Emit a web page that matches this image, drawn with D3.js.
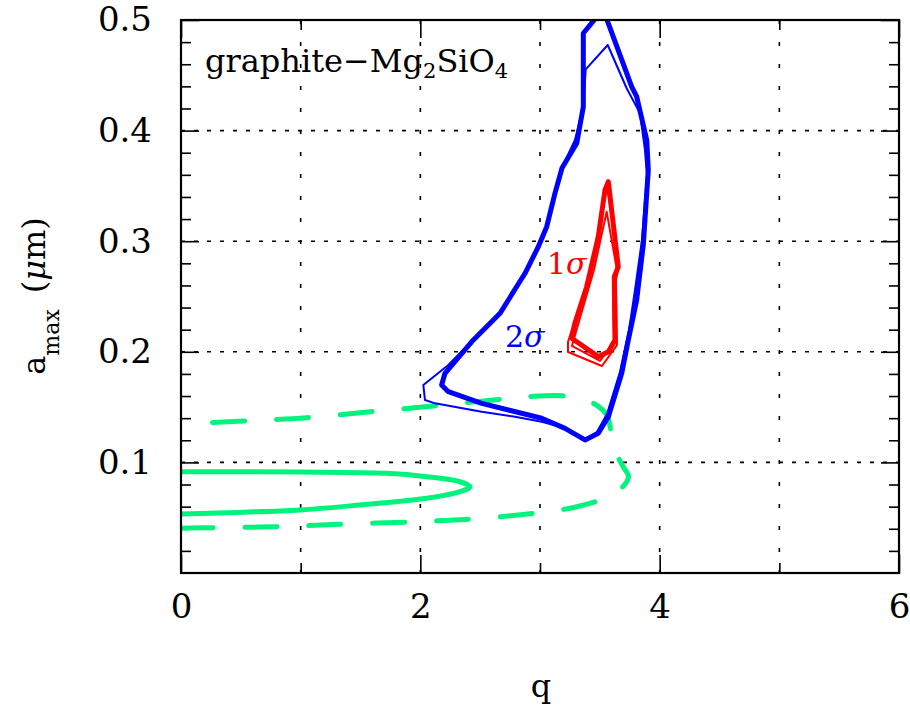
<!DOCTYPE html>
<html>
<head>
<meta charset="utf-8">
<script src="https://cdn.jsdelivr.net/npm/d3@7"></script>
<style>
body { margin: 0; background: #fff; }
svg text { font-family: "DejaVu Serif", serif; fill: #000; }
</style>
</head>
<body>
<div id="chart"></div>
<script>
// Size of the page and plot box
const width = 910;
const height = 709;
const boxLeft = 181, boxRight = 899, boxTop = 20, boxBottom = 573;

// Axis ticks and labels
const xTicks = [0, 2, 4, 6];
const xMinorTicks = [1, 3, 5];
const yTicks = [0.1, 0.2, 0.3, 0.4, 0.5];
const yMinorTicks = [0.02, 0.04, 0.06, 0.08, 0.12, 0.14, 0.16, 0.18, 0.22, 0.24, 0.26, 0.28,
  0.32, 0.34, 0.36, 0.38, 0.42, 0.44, 0.46, 0.48];
const xGrid = [1, 2, 3, 4, 5];
const yGrid = [0.1, 0.2, 0.3, 0.4];

// Contours, [q, a_max]
// 2 sigma, thick (open, leaves the top of the box)
const blueThick = [
  [3.46, 0.501], [3.362, 0.488], [3.362, 0.4216], [3.307, 0.3885], [3.184, 0.3662],
  [3.125, 0.3433], [3.056, 0.3131], [2.986, 0.295], [2.875, 0.271], [2.666, 0.2348],
  [2.443, 0.2107], [2.206, 0.1806], [2.178, 0.170], [2.234, 0.1639], [2.513, 0.1534],
  [3.014, 0.1399], [3.209, 0.1308], [3.376, 0.1203], [3.487, 0.1263], [3.571, 0.1413],
  [3.683, 0.1806], [3.738, 0.2107], [3.808, 0.2468], [3.863, 0.2966], [3.905, 0.3644],
  [3.892, 0.3915], [3.808, 0.4307], [3.766, 0.4397], [3.557, 0.501]
];
// 2 sigma, thin (closed)
const blueThin = [
  [3.382, 0.4554], [3.566, 0.4774], [3.724, 0.4383], [3.836, 0.4156], [3.877, 0.3825],
  [3.894, 0.3599], [3.852, 0.3011], [3.794, 0.2559], [3.744, 0.2197], [3.668, 0.1817],
  [3.560, 0.1438], [3.476, 0.1275], [3.376, 0.1203], [3.209, 0.1311], [3.014, 0.1368],
  [2.791, 0.1413], [2.513, 0.1458], [2.122, 0.1534], [2.039, 0.1564], [2.025, 0.170],
  [2.234, 0.1881], [2.440, 0.2107], [2.666, 0.2351], [2.875, 0.2712], [2.983, 0.2948],
  [3.058, 0.3137], [3.125, 0.3436], [3.175, 0.3644], [3.292, 0.3915], [3.362, 0.4216]
];
// 1 sigma
const redThick = [
  [3.571, 0.3538], [3.654, 0.2769], [3.621, 0.2679], [3.627, 0.2107], [3.571, 0.2001],
  [3.487, 0.1956], [3.265, 0.2122], [3.292, 0.226], [3.39, 0.2589], [3.487, 0.3041],
  [3.543, 0.3463]
];
const redThinA = [
  [3.56, 0.350], [3.66, 0.2776], [3.635, 0.265], [3.643, 0.2061], [3.518, 0.1872],
  [3.234, 0.1998], [3.234, 0.2089], [3.292, 0.2287], [3.418, 0.2685], [3.51, 0.319]
];
const redThinB = [
  [3.557, 0.3267], [3.643, 0.274], [3.61, 0.2631], [3.618, 0.208], [3.501, 0.1917],
  [3.267, 0.2053], [3.334, 0.2306], [3.451, 0.274]
];
// green, solid
const greenSolid = [
  [0, 0.0916], [0.994, 0.0913], [1.719, 0.0901], [2.053, 0.0871], [2.331, 0.0825],
  [2.415, 0.078], [2.331, 0.0735], [2.053, 0.0675], [1.496, 0.0615], [0.994, 0.057],
  [0.382, 0.0545], [0, 0.0533]
];
// green, dashed
const greenDashed = [
  [0, 0.0404], [0.27, 0.041], [0.827, 0.0419], [1.385, 0.0443], [1.97, 0.0464],
  [2.499, 0.0494], [3.056, 0.0554], [3.307, 0.0599], [3.585, 0.0696], [3.70, 0.079],
  [3.74, 0.087], [3.69, 0.097], [3.613, 0.114], [3.557, 0.143], [3.418, 0.155],
  [3.223, 0.160], [2.889, 0.1594], [2.61, 0.1564], [2.108, 0.151], [1.579, 0.1458],
  [1.05, 0.1404], [0.521, 0.1374], [0, 0.1347]
];

const blue = "#0000ff";
const red = "#ff0000";
const green = "#00f37c";

const svg = d3.select("#chart")
  .append("svg")
  .attr("width", width)
  .attr("height", height)
  .style("background", "#fff");

const x = d3.scaleLinear().domain([0, 6]).range([boxLeft, boxRight]);
const y = d3.scaleLinear().domain([0, 0.5]).range([boxBottom, boxTop]);

// Grid
svg.append("g").selectAll("line")
  .data(xGrid).enter()
  .append("line")
  .attr("x1", d => x(d)).attr("x2", d => x(d))
  .attr("y1", boxTop).attr("y2", boxBottom)
  .attr("stroke", "#000").attr("stroke-width", 1.6)
  .attr("stroke-dasharray", "4,18");

svg.append("g").selectAll("line")
  .data(yGrid).enter()
  .append("line")
  .attr("x1", boxLeft).attr("x2", boxRight)
  .attr("y1", d => y(d)).attr("y2", d => y(d))
  .attr("stroke", "#000").attr("stroke-width", 1.6)
  .attr("stroke-dasharray", "4,9");

// Axes (ticks pointing inward)
function styleAxis(g) {
  g.select(".domain").remove();
  g.selectAll(".tick line").attr("stroke", "#000").attr("stroke-width", 1.6);
  g.selectAll(".tick text").attr("font-family", "DejaVu Serif").attr("font-size", 34);
}

svg.append("g")
  .attr("transform", "translate(0," + boxBottom + ")")
  .call(d3.axisBottom(x).tickValues(xTicks).tickSize(-18).tickPadding(21).tickFormat(d3.format("d")))
  .call(styleAxis);
svg.append("g")
  .attr("transform", "translate(0," + boxBottom + ")")
  .call(d3.axisBottom(x).tickValues(xMinorTicks).tickSize(-10).tickFormat(""))
  .call(styleAxis);
svg.append("g")
  .attr("transform", "translate(0," + boxTop + ")")
  .call(d3.axisTop(x).tickValues(xTicks).tickSize(-18).tickFormat(""))
  .call(styleAxis);
svg.append("g")
  .attr("transform", "translate(0," + boxTop + ")")
  .call(d3.axisTop(x).tickValues(xMinorTicks).tickSize(-10).tickFormat(""))
  .call(styleAxis);

svg.append("g")
  .attr("transform", "translate(" + boxLeft + ",0)")
  .call(d3.axisLeft(y).tickValues(yTicks).tickSize(-18).tickPadding(29).tickFormat(d3.format(".1f")))
  .call(styleAxis);
svg.append("g")
  .attr("transform", "translate(" + boxLeft + ",0)")
  .call(d3.axisLeft(y).tickValues(yMinorTicks).tickSize(-10).tickFormat(""))
  .call(styleAxis);
svg.append("g")
  .attr("transform", "translate(" + boxRight + ",0)")
  .call(d3.axisRight(y).tickValues(yTicks).tickSize(-18).tickFormat(""))
  .call(styleAxis);
svg.append("g")
  .attr("transform", "translate(" + boxRight + ",0)")
  .call(d3.axisRight(y).tickValues(yMinorTicks).tickSize(-10).tickFormat(""))
  .call(styleAxis);

// Contours, clipped to the box
svg.append("clipPath").attr("id", "plot-clip")
  .append("rect")
  .attr("x", boxLeft).attr("y", boxTop)
  .attr("width", boxRight - boxLeft).attr("height", boxBottom - boxTop);

const plot = svg.append("g").attr("clip-path", "url(#plot-clip)");

const line = d3.line().x(d => x(d[0])).y(d => y(d[1]));
const closedLine = d3.line().x(d => x(d[0])).y(d => y(d[1])).curve(d3.curveLinearClosed);
const smoothLine = d3.line().x(d => x(d[0])).y(d => y(d[1])).curve(d3.curveCatmullRom);

const dashed = plot.append("path").attr("d", smoothLine(greenDashed))
  .attr("fill", "none").attr("stroke", green).attr("stroke-width", 5)
  .attr("stroke-linecap", "round");
// stretch the dash period so the curve starts on a dash and ends on a gap
const dashLen = dashed.node().getTotalLength();
const period = dashLen / Math.round(dashLen / 66);
dashed.attr("stroke-dasharray", "32," + (period - 32).toFixed(2));

plot.append("path").attr("d", smoothLine(greenSolid))
  .attr("fill", "none").attr("stroke", green).attr("stroke-width", 5)
  .attr("stroke-linecap", "round");

plot.append("path").attr("d", closedLine(blueThin))
  .attr("fill", "none").attr("stroke", blue).attr("stroke-width", 2)
  .attr("stroke-linejoin", "round");
plot.append("path").attr("d", line(blueThick))
  .attr("fill", "none").attr("stroke", blue).attr("stroke-width", 5)
  .attr("stroke-linejoin", "round");

plot.append("path").attr("d", closedLine(redThinA))
  .attr("fill", "none").attr("stroke", red).attr("stroke-width", 2)
  .attr("stroke-linejoin", "round");
plot.append("path").attr("d", closedLine(redThinB))
  .attr("fill", "none").attr("stroke", red).attr("stroke-width", 2)
  .attr("stroke-linejoin", "round");
plot.append("path").attr("d", closedLine(redThick))
  .attr("fill", "none").attr("stroke", red).attr("stroke-width", 5)
  .attr("stroke-linejoin", "round");

// Frame
svg.append("rect")
  .attr("x", boxLeft).attr("y", boxTop)
  .attr("width", boxRight - boxLeft).attr("height", boxBottom - boxTop)
  .attr("fill", "none").attr("stroke", "#000").attr("stroke-width", 2.2);

// Labels inside the box
const title = svg.append("text")
  .attr("x", 205).attr("y", 72)
  .attr("font-size", 32);
title.append("tspan").text("graphite\u2212Mg");
title.append("tspan").attr("dy", 6).attr("font-size", 21).text("2");
title.append("tspan").attr("dy", -6).text("SiO");
title.append("tspan").attr("dy", 6).attr("font-size", 21).text("4");

const sig1 = svg.append("text")
  .attr("x", 547).attr("y", 274)
  .attr("font-size", 30).style("fill", red);
sig1.append("tspan").text("1");
sig1.append("tspan").attr("font-style", "italic").text("\u03c3");

const sig2 = svg.append("text")
  .attr("x", 505).attr("y", 347)
  .attr("font-size", 30).style("fill", blue);
sig2.append("tspan").text("2");
sig2.append("tspan").attr("font-style", "italic").text("\u03c3");

// Axis titles
svg.append("text")
  .attr("x", 541).attr("y", 697)
  .attr("text-anchor", "middle")
  .attr("font-size", 32)
  .text("q");

const yTitle = svg.append("text")
  .attr("transform", "translate(45,296) rotate(-90)")
  .attr("text-anchor", "middle")
  .attr("font-size", 32);
yTitle.append("tspan").text("a");
yTitle.append("tspan").attr("dy", 14).attr("font-size", 22).text("max");
yTitle.append("tspan").attr("dy", -14).text("\u2002(");
yTitle.append("tspan").attr("font-style", "italic").text("\u03bc");
yTitle.append("tspan").text("m)");
</script>
</body>
</html>
